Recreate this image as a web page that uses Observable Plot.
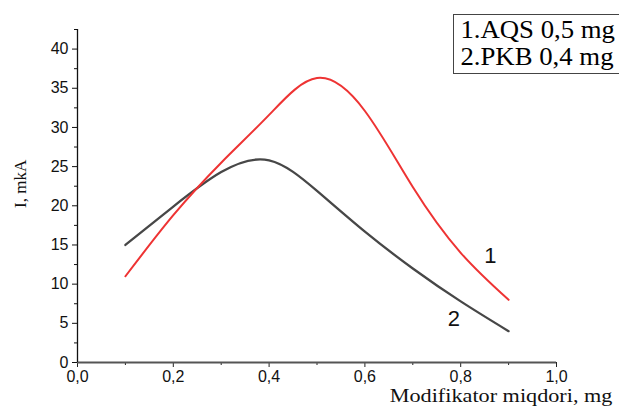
<!DOCTYPE html>
<html><head><meta charset="utf-8">
<script src="https://cdn.jsdelivr.net/npm/d3@7"></script>
<script src="https://cdn.jsdelivr.net/npm/@observablehq/plot@0.6"></script>
<style>
body{margin:0;background:#fff;}
#wrap{position:relative;width:619px;height:412px;overflow:hidden;}
#legend{position:absolute;left:453px;top:14px;width:200px;height:57px;border:1px solid #444;font-family:"Liberation Serif",serif;font-size:25px;line-height:27px;white-space:nowrap;padding:1px 0 0 0;color:#000;}
#legend div{transform:scaleX(1.07);transform-origin:left center;padding-left:6px;}
</style>
</head><body>
<div id="wrap"><div id="chart"></div><div id="legend"></div></div>
<script>
const xValues = [0.1, 0.2, 0.3, 0.4, 0.5, 0.6, 0.7, 0.8, 0.9];
const series1 = [11, 18.8, 25.5, 31.6, 36.3, 32.1, 22.4, 14.0, 8.0];
const series2 = [15, 19.9, 24.3, 25.8, 21.9, 16.7, 12.0, 7.8, 4.0];
const legendLabels = ["1.AQS 0,5 mg", "2.PKB 0,4 mg"];
const curveLabels = [{t:"1", x:0.862, y:13.6}, {t:"2", x:0.786, y:5.6}];
const xTicks = [0, 0.2, 0.4, 0.6, 0.8, 1.0];
const xMinor = [0.1, 0.3, 0.5, 0.7, 0.9];
const yTicks = [0, 5, 10, 15, 20, 25, 30, 35, 40];
const yMinor = [2.5, 7.5, 12.5, 17.5, 22.5, 27.5, 32.5, 37.5, 42.5];
const yMax = 42.5;
const xLabel = "Modifikator miqdori, mg";
const yLabel = "I, mkA";

const d1 = xValues.map((x,i)=>({x, y:series1[i]}));
const d2 = xValues.map((x,i)=>({x, y:series2[i]}));
const fmt = d => d.toFixed(1).replace(".", ",");

const chart = Plot.plot({
  width: 619, height: 412,
  marginLeft: 77, marginRight: 63, marginTop: 29, marginBottom: 50,
  style: {fontFamily: "'Liberation Sans', Arial, sans-serif", fontSize: "16px", color: "#111", background: "#fff"},
  x: {domain: [0, 1]},
  y: {domain: [0, yMax]},
  marks: [
    Plot.axisX({ticks: xTicks, tickSize: 5, tickPadding: 3, tickFormat: fmt, label: null, stroke: "#222"}),
    Plot.axisX({ticks: xMinor, tickSize: 3, tickFormat: () => "", label: null, stroke: "#222"}),
    Plot.axisY({ticks: yTicks, tickSize: 5, tickPadding: 4, label: null, stroke: "#111"}),
    Plot.axisY({ticks: yMinor, tickSize: 3, tickFormat: () => "", label: null, stroke: "#111"}),
    Plot.ruleY([0], {stroke: "#555", strokeWidth: 2}),
    Plot.ruleX([0], {y1: 0, y2: yMax, stroke: "#111", strokeWidth: 1.3}),
    Plot.line(d2, {x: "x", y: "y", stroke: "#474747", strokeWidth: 2.3, curve: "natural"}),
    Plot.line(d1, {x: "x", y: "y", stroke: "#ee3333", strokeWidth: 2, curve: "natural"}),
    Plot.text(curveLabels, {x: "x", y: "y", text: "t", fontSize: 22, fill: "#111"}),
    Plot.text([xLabel], {frameAnchor: "bottom-right", dx: 56, dy: 39, textAnchor: "end", fontFamily: "'Liberation Serif', serif", fontSize: 19, fill: "#111"}),
    Plot.text([yLabel], {frameAnchor: "left", dx: -57, dy: 12, rotate: -90, fontFamily: "'Liberation Serif', serif", fontSize: 17, fill: "#111"})
  ]
});
document.getElementById("chart").appendChild(chart);
document.getElementById("legend").innerHTML = legendLabels.map(s => `<div>${s}</div>`).join("");

// horizontal stretch of the x-axis title, as in the reference
chart.querySelectorAll("text").forEach(t => {
  if (t.textContent === xLabel) {
    const b = t.getBBox();
    const ax = b.x + b.width;
    const tr = t.getAttribute("transform") || "";
    t.setAttribute("transform", `${tr} translate(${ax},0) scale(1.17,1) translate(${-ax},0)`);
  }
});
</script>
</body></html>
